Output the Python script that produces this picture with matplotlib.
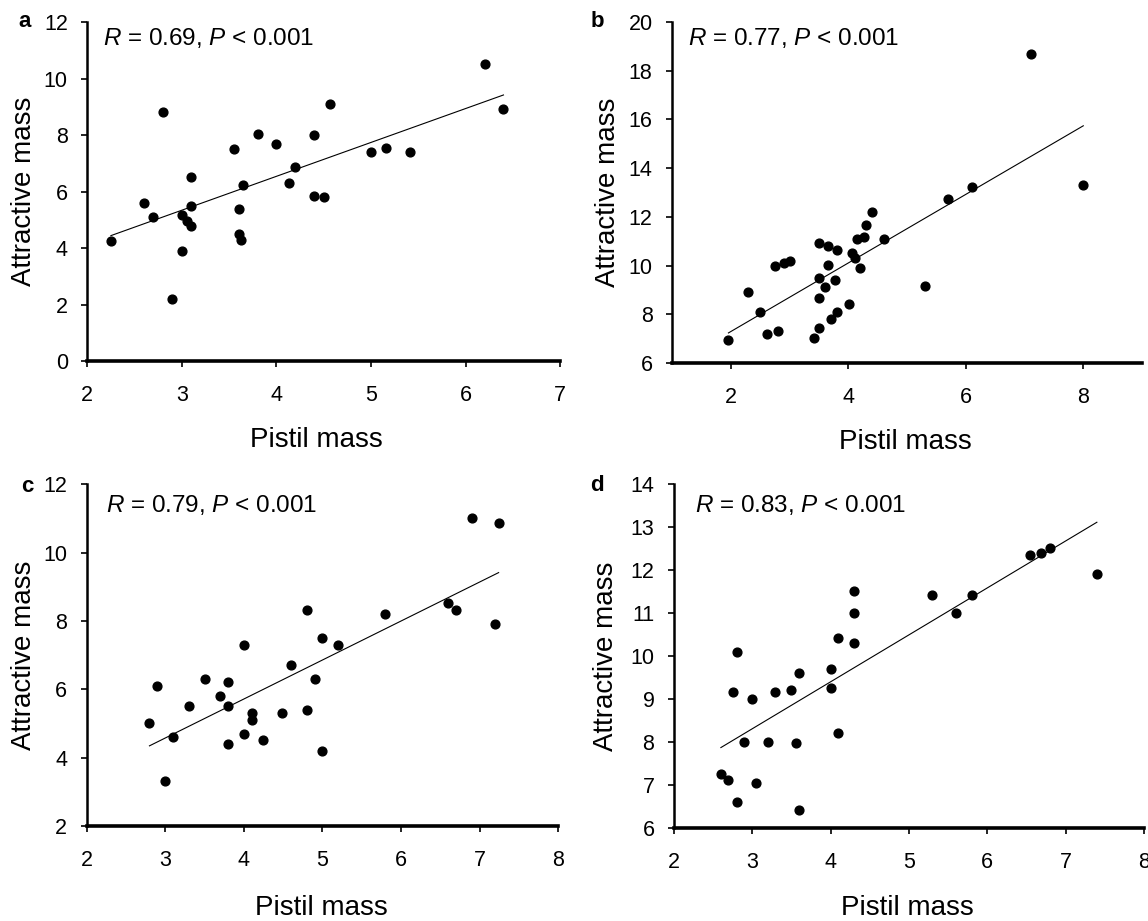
import matplotlib.pyplot as plt

plt.rcParams['font.family'] = ['Liberation Sans', 'DejaVu Sans']
plt.rcParams['mathtext.fontset'] = 'custom'
plt.rcParams['mathtext.rm'] = 'Liberation Sans'
plt.rcParams['mathtext.it'] = 'Liberation Sans:italic'

# panel a
a_x = [2.25, 2.60, 2.70, 2.80, 2.90, 3.00, 3.00, 3.05, 3.10, 3.10, 3.10, 3.55, 3.60, 3.60, 3.63,
       3.65, 3.80, 4.00, 4.13, 4.20, 4.40, 4.40, 4.50, 4.57, 5.00, 5.16, 5.41, 6.21, 6.40]
a_y = [4.26, 5.60, 5.09, 8.81, 2.19, 5.16, 3.90, 4.96, 4.79, 6.50, 5.49, 7.50, 5.39, 4.48, 4.27,
       6.25, 8.03, 7.69, 6.30, 6.86, 8.00, 5.85, 5.79, 9.09, 7.39, 7.53, 7.39, 10.50, 8.94]
a_fit_x = [2.25, 6.40]
a_fit_y = [4.44, 9.42]

# panel b
b_x = [1.96, 2.30, 2.50, 2.61, 2.76, 2.81, 2.90, 3.00, 3.41, 3.50, 3.50, 3.50, 3.50, 3.60, 3.66,
       3.66, 3.70, 3.78, 3.80, 3.80, 4.01, 4.06, 4.11, 4.15, 4.20, 4.26, 4.31, 4.40, 4.61, 5.31,
       5.70, 6.11, 7.11, 8.00]
b_y = [6.96, 8.90, 8.11, 7.20, 9.97, 7.31, 10.12, 10.20, 7.01, 10.91, 9.50, 8.67, 7.42, 9.12, 10.80,
       10.02, 7.81, 9.42, 10.63, 8.11, 8.41, 10.53, 10.31, 11.09, 9.91, 11.17, 11.68, 12.21, 11.09, 9.16,
       12.72, 13.21, 18.70, 13.31]
b_fit_x = [1.96, 8.00]
b_fit_y = [7.23, 15.74]

# panel c
c_x = [2.80, 2.90, 3.00, 3.10, 3.30, 3.50, 3.70, 3.80, 3.80, 3.80, 4.00, 4.00, 4.10, 4.10, 4.25,
       4.49, 4.60, 4.80, 4.80, 4.90, 5.00, 5.00, 5.20, 5.80, 6.60, 6.70, 6.90, 7.19, 7.24]
c_y = [5.01, 6.10, 3.32, 4.61, 5.51, 6.31, 5.81, 6.21, 5.51, 4.41, 7.31, 4.71, 5.31, 5.11, 4.51,
       5.31, 6.71, 8.32, 5.41, 6.31, 7.52, 4.21, 7.31, 8.22, 8.52, 8.32, 11.02, 7.92, 10.87]
c_fit_x = [2.80, 7.24]
c_fit_y = [4.35, 9.42]

# panel d
d_x = [2.60, 2.69, 2.75, 2.80, 2.80, 2.89, 3.00, 3.05, 3.20, 3.29, 3.49, 3.56, 3.60, 3.60, 4.00,
       4.00, 4.10, 4.10, 4.30, 4.30, 4.30, 5.29, 5.60, 5.80, 6.55, 6.69, 6.80, 7.40]
d_y = [7.25, 7.11, 9.16, 6.60, 10.10, 8.01, 9.01, 7.05, 8.01, 9.16, 9.21, 7.97, 9.60, 6.41, 9.70,
       9.25, 10.41, 8.21, 11.51, 11.00, 10.30, 11.41, 11.00, 11.41, 12.35, 12.40, 12.51, 11.90]
d_fit_x = [2.60, 7.40]
d_fit_y = [7.87, 13.11]

r_labels = ['0.69', '0.77', '0.79', '0.83']
letters = ['a', 'b', 'c', 'd']

fig = plt.figure(figsize=(11.48, 9.21), dpi=100)

panels = [
    (a_x, a_y, a_fit_x, a_fit_y, [0.0760, 0.608, 0.412, 0.368], (2, 7), range(2, 8), (0, 12), range(0, 13, 2)),
    (b_x, b_y, b_fit_x, b_fit_y, [0.5854, 0.606, 0.4094, 0.370], (1, 9), range(2, 9, 2), (6, 20), range(6, 21, 2)),
    (c_x, c_y, c_fit_x, c_fit_y, [0.0754, 0.103, 0.411, 0.371], (2, 8), range(2, 9), (2, 12), range(2, 13, 2)),
    (d_x, d_y, d_fit_x, d_fit_y, [0.5870, 0.101, 0.4094, 0.3735], (2, 8), range(2, 9), (6, 14), range(6, 15)),
]
ylab_x = [-0.1055, -0.109, -0.1045, -0.1175]
xlab_pos = [(0.485, -0.195), (0.496, -0.194), (0.498, -0.202), (0.497, -0.196)]
r_pos = [(0.034, 0.953), (0.035, 0.953), (0.041, 0.941), (0.046, 0.939)]
letter_pos = [(25, 27), (597, 27), (27, 492), (597, 491)]

for i, (x, y, fx, fy, rect, xlim, xticks, ylim, yticks) in enumerate(panels):
    ax = fig.add_axes(rect)
    ax.scatter(x, y, s=40, color='black', zorder=3, clip_on=False)
    ax.plot(fx, fy, color='black', lw=0.8)
    ax.set_xlim(*xlim)
    ax.set_ylim(*ylim)
    ax.set_xticks(list(xticks))
    ax.set_yticks(list(yticks))
    for s in ['top', 'right']:
        ax.spines[s].set_visible(False)
    ax.spines['left'].set_linewidth(1.8)
    ax.spines['bottom'].set_linewidth(2.6)
    ax.tick_params(direction='out', length=4.5, width=1.2, labelsize=15.5)
    ax.tick_params(axis='x', pad=13)
    ax.tick_params(axis='y', pad=9.5)
    ax.set_ylabel('Attractive mass', fontsize=20)
    ax.yaxis.set_label_coords(ylab_x[i], 0.5)
    ax.set_xlabel('Pistil mass', fontsize=20)
    ax.xaxis.set_label_coords(*xlab_pos[i])
    ax.text(r_pos[i][0], r_pos[i][1], r'$R$ = ' + r_labels[i] + r', $P$ < 0.001',
            transform=ax.transAxes, fontsize=17.5, va='center', ha='left')
    lx, ly = letter_pos[i]
    fig.text(lx / 1148, 1 - ly / 921, letters[i], fontsize=16, fontweight='bold',
             ha='center', va='baseline')

plt.savefig('out.png', dpi=100)
